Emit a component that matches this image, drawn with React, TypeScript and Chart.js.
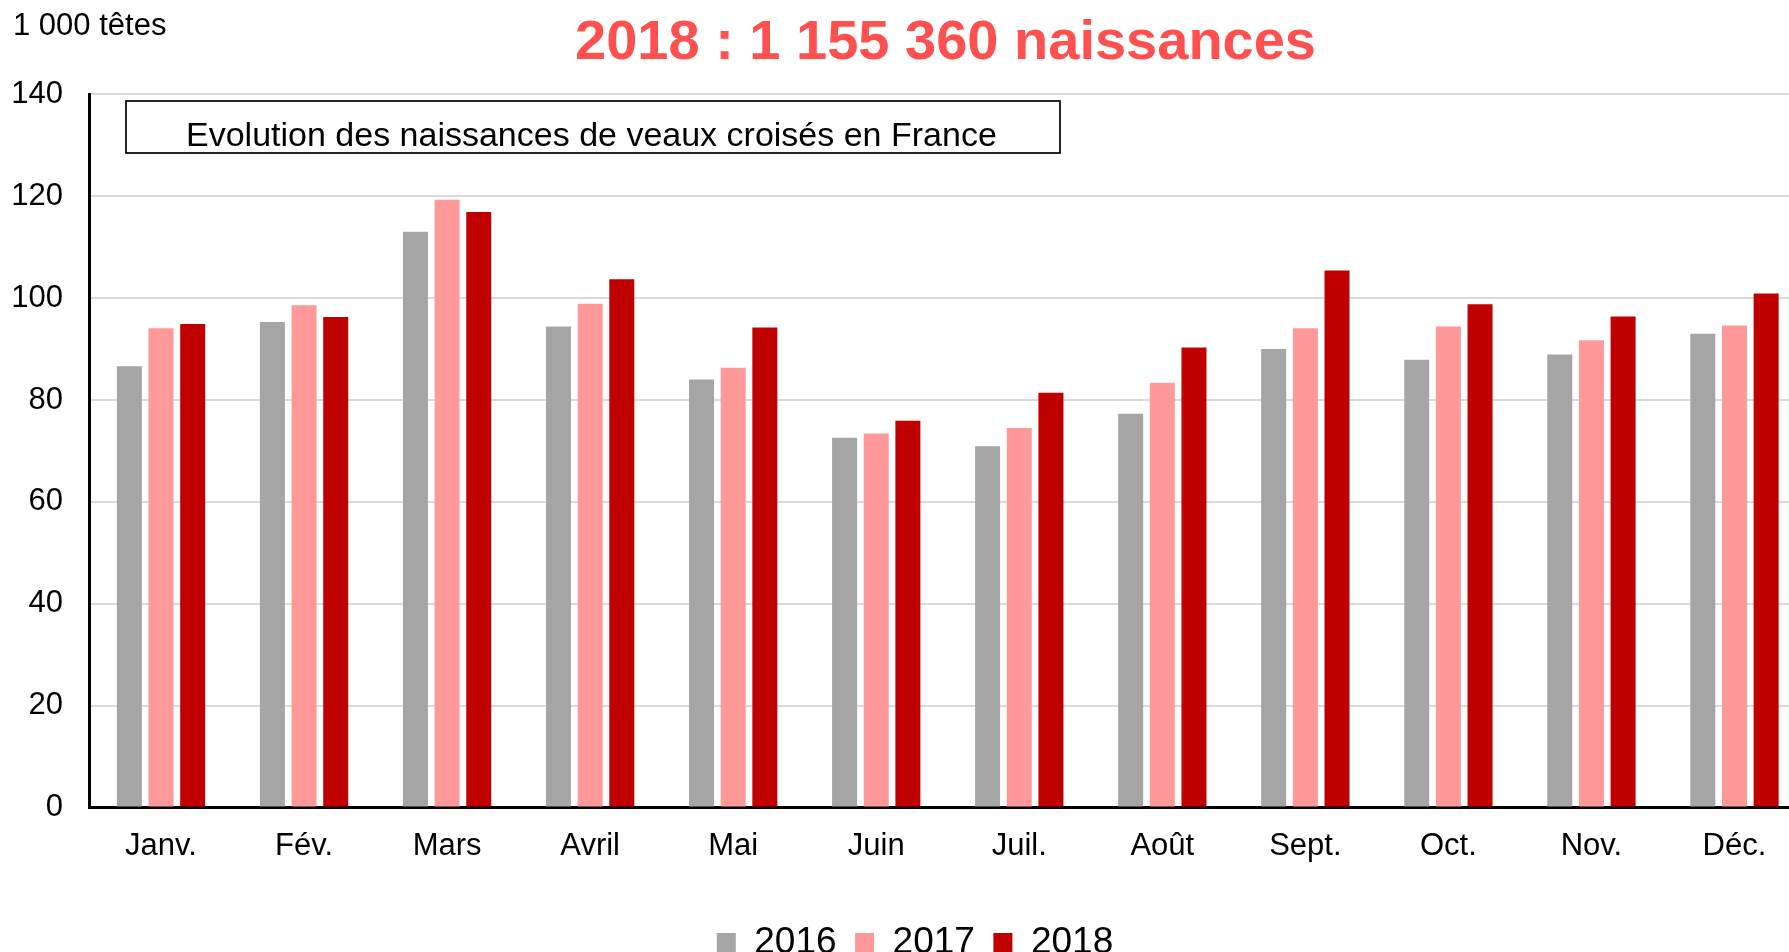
import React, { useEffect, useRef } from "react";
import { Chart, registerables } from "chart.js";

Chart.register(...registerables);

const months = ["Janv.", "Fév.", "Mars", "Avril", "Mai", "Juin", "Juil.", "Août", "Sept.", "Oct.", "Nov.", "Déc."];
const values2016 = [86.6, 95.3, 113.0, 94.4, 84.0, 72.6, 70.9, 77.3, 90.0, 87.9, 88.9, 93.0];
const values2017 = [94.1, 98.6, 119.3, 98.9, 86.3, 73.4, 74.5, 83.4, 94.1, 94.4, 91.7, 94.6];
const values2018 = [94.9, 96.3, 116.9, 103.7, 94.2, 75.9, 81.4, 90.3, 105.4, 98.8, 96.4, 100.9];
const seriesLabels = ["2016", "2017", "2018"];
const seriesColors = ["#A5A5A5", "#FF9999", "#C00000"];
const titleText = "2018 : 1 155 360 naissances";
const unitText = "1 000 têtes";
const boxText = "Evolution des naissances de veaux croisés en France";

const FONT = '"Liberation Sans", Arial, sans-serif';
const CANVAS_W = 1830;
const CANVAS_H = 971;

const textPlugin = {
  id: "extraTexts",
  afterDraw(chart: any) {
    const ctx = chart.ctx;
    ctx.save();
    ctx.textBaseline = "alphabetic";
    ctx.textAlign = "left";
    ctx.fillStyle = "#FF5050";
    ctx.font = `bold 56px ${FONT}`;
    ctx.fillText(titleText, 575, 59);
    ctx.fillStyle = "#000000";
    ctx.font = `31px ${FONT}`;
    ctx.fillText(unitText, 13, 35);
    ctx.fillStyle = "#FFFFFF";
    ctx.fillRect(126, 101, 934, 52);
    ctx.lineWidth = 1.7;
    ctx.strokeStyle = "#000000";
    ctx.strokeRect(126, 101, 934, 52);
    ctx.fillStyle = "#000000";
    ctx.font = `34px ${FONT}`;
    ctx.fillText(boxText, 186, 145.5);
    ctx.restore();
  },
};

export default function App() {
  const canvasRef = useRef<HTMLCanvasElement | null>(null);

  useEffect(() => {
    if (!canvasRef.current) return;
    Chart.defaults.font.family = FONT;
    const seriesValues = [values2016, values2017, values2018];
    const chart = new Chart(canvasRef.current, {
      type: "bar",
      data: {
        labels: months,
        datasets: seriesLabels.map((label, i) => ({
          label,
          data: seriesValues[i],
          backgroundColor: seriesColors[i],
          borderWidth: 0,
          categoryPercentage: 0.664,
          barPercentage: 0.79,
        })),
      },
      options: {
        responsive: false,
        animation: false,
        devicePixelRatio: 1,
        layout: { padding: { top: 94.3, left: 0, right: 0, bottom: 0 } },
        plugins: {
          title: { display: false },
          tooltip: { enabled: false },
          legend: {
            display: true,
            position: "bottom",
            labels: {
              color: "#000000",
              font: { size: 37, family: FONT },
              boxWidth: 19,
              boxHeight: 19,
              padding: 18.5,
            },
          },
        },
        scales: {
          x: {
            grid: { display: false, drawTicks: false },
            border: { display: true, color: "#000000", width: 3 },
            ticks: { color: "#000000", font: { size: 31, family: FONT }, padding: 20, maxRotation: 0, autoSkip: false },
            afterFit: (scale: any) => {
              scale.height = 98;
            },
          },
          y: {
            min: 0,
            max: 140,
            ticks: { stepSize: 20, color: "#000000", font: { size: 31, family: FONT }, padding: 26.5 },
            grid: { color: "#D9D9D9", lineWidth: 2, drawTicks: false },
            border: { display: true, color: "#000000", width: 3 },
            afterFit: (scale: any) => {
              scale.width = 89.5;
            },
          },
          rightPad: {
            type: "linear",
            position: "right",
            display: true,
            grid: { display: false, drawTicks: false },
            border: { display: false },
            ticks: { display: false },
            afterFit: (scale: any) => {
              scale.width = 24;
            },
          },
        },
      },
      plugins: [textPlugin],
    });
    return () => chart.destroy();
  }, []);

  return (
    <div style={{ position: "fixed", left: 0, top: 0, width: "100vw", height: "100vh", overflow: "hidden", background: "#ffffff" }}>
      <canvas ref={canvasRef} width={CANVAS_W} height={CANVAS_H} style={{ display: "block", width: CANVAS_W, height: CANVAS_H }} />
    </div>
  );
}
